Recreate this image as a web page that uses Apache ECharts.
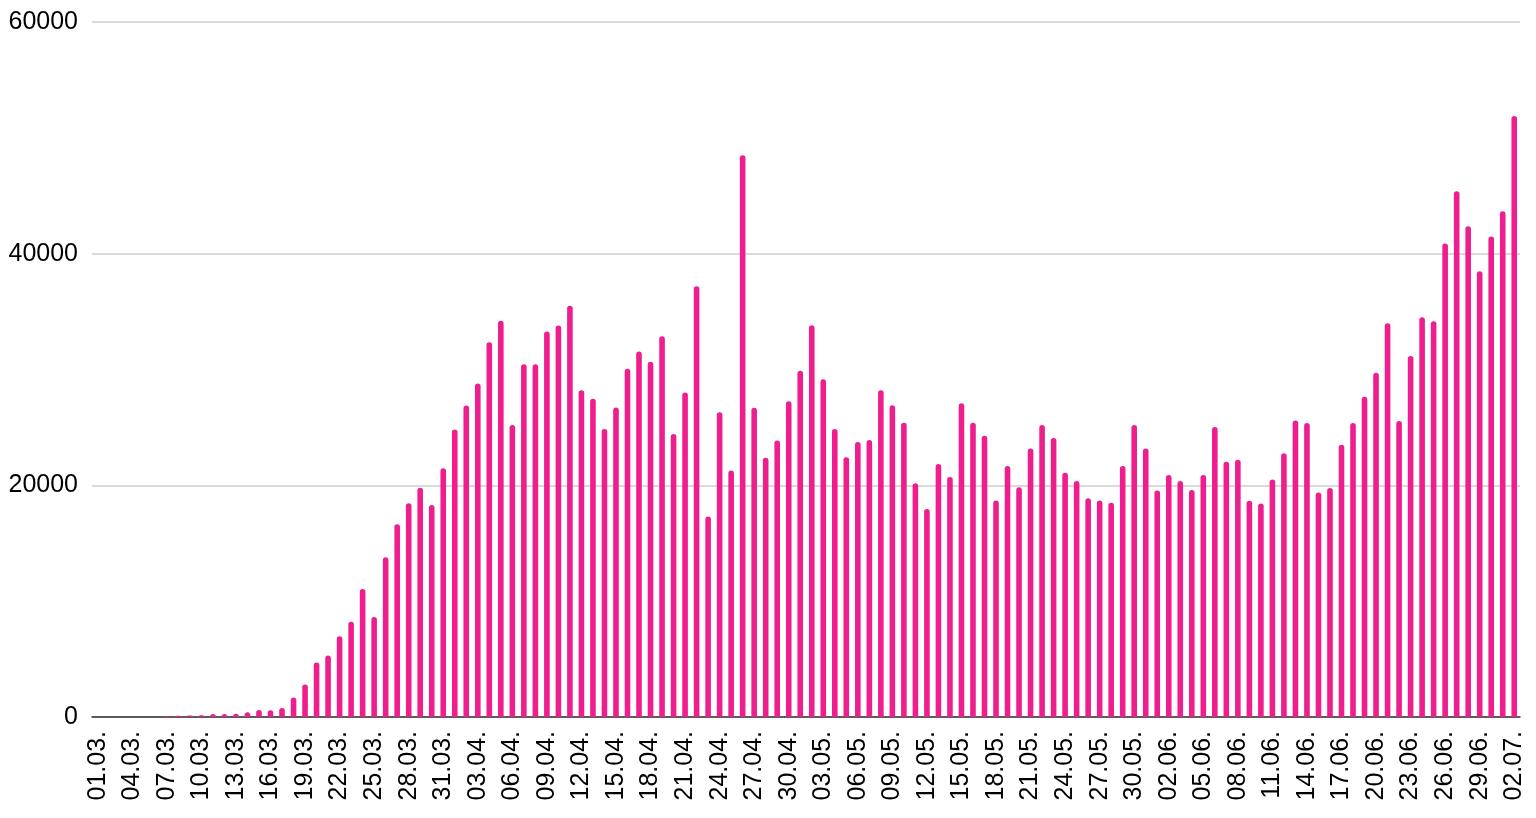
<!DOCTYPE html>
<html>
<head>
<meta charset="utf-8">
<script src="https://cdn.jsdelivr.net/npm/echarts@6.0.0/dist/echarts.min.js"></script>
<style>
  html, body { margin: 0; padding: 0; background: #ffffff; }
  #chart { width: 1536px; height: 818px; }
</style>
</head>
<body>
<div id="chart"></div>
<script>
const categories = [
  "01.03.","02.03.","03.03.","04.03.","05.03.","06.03.","07.03.","08.03.","09.03.","10.03.",
  "11.03.","12.03.","13.03.","14.03.","15.03.","16.03.","17.03.","18.03.","19.03.","20.03.",
  "21.03.","22.03.","23.03.","24.03.","25.03.","26.03.","27.03.","28.03.","29.03.","30.03.","31.03.",
  "01.04.","02.04.","03.04.","04.04.","05.04.","06.04.","07.04.","08.04.","09.04.","10.04.",
  "11.04.","12.04.","13.04.","14.04.","15.04.","16.04.","17.04.","18.04.","19.04.","20.04.",
  "21.04.","22.04.","23.04.","24.04.","25.04.","26.04.","27.04.","28.04.","29.04.","30.04.",
  "01.05.","02.05.","03.05.","04.05.","05.05.","06.05.","07.05.","08.05.","09.05.","10.05.",
  "11.05.","12.05.","13.05.","14.05.","15.05.","16.05.","17.05.","18.05.","19.05.","20.05.",
  "21.05.","22.05.","23.05.","24.05.","25.05.","26.05.","27.05.","28.05.","29.05.","30.05.","31.05.",
  "01.06.","02.06.","03.06.","04.06.","05.06.","06.06.","07.06.","08.06.","09.06.","10.06.",
  "11.06.","12.06.","13.06.","14.06.","15.06.","16.06.","17.06.","18.06.","19.06.","20.06.",
  "21.06.","22.06.","23.06.","24.06.","25.06.","26.06.","27.06.","28.06.","29.06.","30.06.",
  "01.07.","02.07."
];

const valuesMarch = [
  0, 0, 0, 0, 0, 0, 80, 100, 120, 150,
  260, 250, 270, 420, 600, 580, 780, 1680, 2800, 4700,
  5300, 6980, 8230, 11050, 8630, 13800, 16650, 18460, 19800, 18310, 21470
];
const valuesApril = [
  24830, 26900, 28800, 32350, 34200, 25200, 30460, 30460, 33280, 33800,
  35500, 28210, 27480, 24870, 26720, 30070, 31560, 30660, 32880, 24440,
  28010, 37190, 17320, 26320, 21290, 48500, 26690, 22380, 23870, 27250
];
const valuesMay = [
  29900, 33810, 29150, 24860, 22420, 23740, 23910, 28200, 26910, 25410,
  20170, 17960, 21840, 20720, 27080, 25410, 24290, 18680, 21670, 19830,
  23170, 25210, 24090, 21090, 20370, 18880, 18680, 18500, 21670, 25210, 23170
];
const valuesJune = [
  19550, 20900, 20370, 19590, 20900, 25030, 22030, 22200, 18670, 18430,
  20510, 22770, 25590, 25380, 19380, 19770, 23510, 25380, 27640, 29720,
  33990, 25560, 31170, 34520, 34170, 40880, 45390, 42360, 38480, 41480
];
const valuesJuly = [43660, 51890];

const yTicks = [0, 20000, 40000, 60000];

const values = [].concat(valuesMarch, valuesApril, valuesMay, valuesJune, valuesJuly);

const chart = echarts.init(document.getElementById('chart'), null, { renderer: 'canvas' });
const fontFamily = '"Liberation Sans", Arial, Helvetica, sans-serif';

chart.setOption({
  animation: false,
  backgroundColor: '#ffffff',
  grid: { left: 92, right: 16, top: 22, bottom: 101, containLabel: false },
  xAxis: {
    type: 'category',
    data: categories,
    boundaryGap: true,
    axisLine: { show: true, lineStyle: { color: '#333333', width: 1.5 } },
    axisTick: { show: false },
    axisLabel: {
      interval: 2,
      rotate: 90,
      margin: 14,
      fontSize: 25,
      color: '#000000',
      fontFamily: fontFamily
    },
    splitLine: { show: false }
  },
  yAxis: {
    type: 'value',
    min: yTicks[0],
    max: yTicks[yTicks.length - 1],
    interval: yTicks[1] - yTicks[0],
    axisLine: { show: false },
    axisTick: { show: false },
    axisLabel: {
      margin: 14,
      fontSize: 25,
      color: '#000000',
      fontFamily: fontFamily,
      formatter: function (v) { return String(v); }
    },
    splitLine: { show: true, lineStyle: { color: '#cccccc', width: 1.5 } }
  },
  series: [{
    type: 'bar',
    data: values,
    barWidth: 5.6,
    itemStyle: { color: '#ef1e8f', borderRadius: [2.8, 2.8, 0, 0] }
  }]
});
</script>
</body>
</html>
